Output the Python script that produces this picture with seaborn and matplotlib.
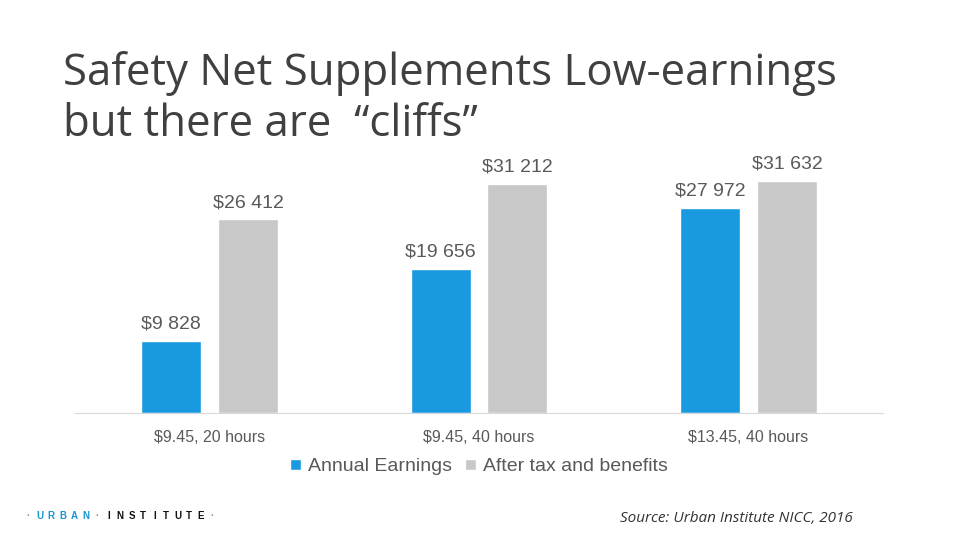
import pandas as pd
import seaborn as sns
import matplotlib.pyplot as plt

# data
scenarios = ['$9.45, 20 hours', '$9.45, 40 hours', '$13.45, 40 hours']
annual_earnings = [9828, 19656, 27972]
after_tax_benefits = [26412, 31212, 31632]
series_names = ['Annual Earnings', 'After tax and benefits']

df = pd.DataFrame({
    'scenario': scenarios * 2,
    'value': annual_earnings + after_tax_benefits,
    'series': [series_names[0]] * 3 + [series_names[1]] * 3,
})

sns.set_style('white')
plt.rcParams['font.family'] = ['Liberation Sans', 'DejaVu Sans']

fig = plt.figure(figsize=(9.6, 5.4), dpi=100)
ax = fig.add_axes([0.078, 0.235, 0.842, 0.489])

palette = {series_names[0]: '#1899e0', series_names[1]: '#c8c8c8'}
sns.barplot(data=df, x='scenario', y='value', hue='series', palette=palette,
            width=0.57, gap=0.22, saturation=1, ax=ax)

for cont in ax.containers:
    labels = ['$' + f'{v:,.0f}'.replace(',', ' ') for v in cont.datavalues]
    ax.bar_label(cont, labels=labels, padding=6, fontsize=14, color='#595959')

ax.set_ylim(0, 36000)
ax.set_xlabel('')
ax.set_ylabel('')
ax.set_yticks([])
ax.tick_params(axis='x', length=0, labelsize=11.5, labelcolor='#595959', pad=12)
for s in ['top', 'left', 'right']:
    ax.spines[s].set_visible(False)
ax.spines['bottom'].set_color('#d9d9d9')

leg = ax.legend(loc='upper center', bbox_to_anchor=(0.5, -0.105), ncol=2,
                frameon=False, fontsize=14, handlelength=0.55, handleheight=0.55,
                handletextpad=0.35, columnspacing=0.7)
for t in leg.get_texts():
    t.set_color('#595959')

fig.text(0.066, 0.905, 'Safety Net Supplements Low-earnings\nbut there are \u00a0\u201ccliffs\u201d',
         fontsize=31.5, color='#404040', family=['Open Sans', 'DejaVu Sans'],
         va='top', ha='left', linespacing=1.18)

fig.text(0.646, 0.033, 'Source: Urban Institute NICC, 2016', fontsize=11,
         style='italic', color='#333333', family=['Open Sans', 'DejaVu Sans'])

# logo wordmark, spaced letters
logo = '\u00b7URBAN\u00b7INSTITUTE\u00b7'
for i, ch in enumerate(logo):
    col = '#1696d2' if i < 6 else '#111111'
    if ch == '\u00b7':
        col = '#999999'
    fig.text((28 + i * 11.5) / 960, 0.038, ch, fontsize=7, weight='bold',
             color=col, ha='center')

fig.savefig('out.png', dpi=100)
